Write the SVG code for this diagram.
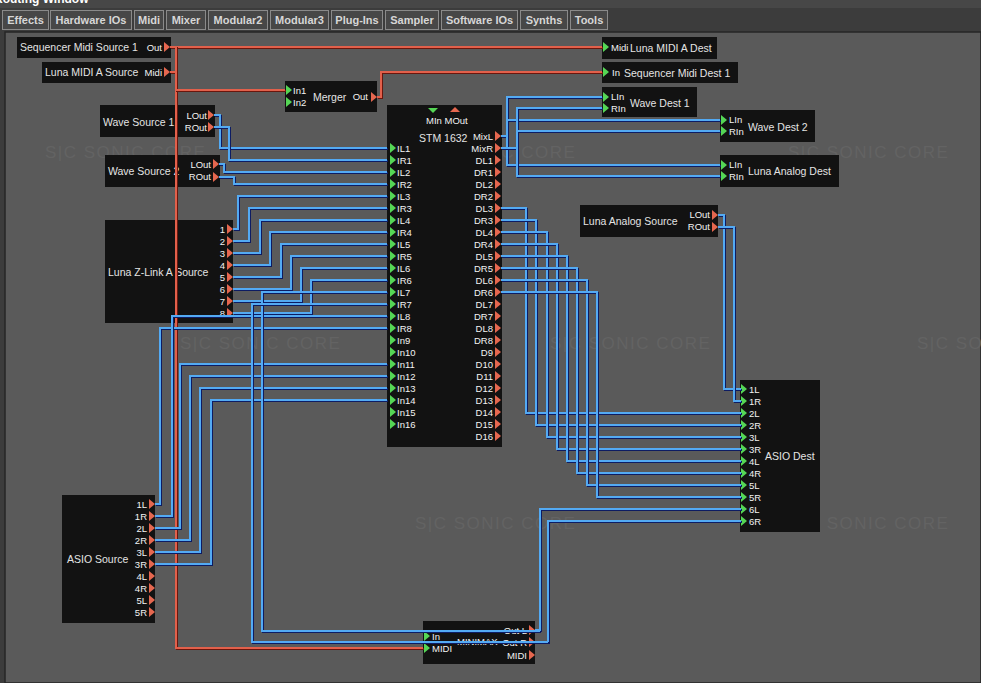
<svg xmlns="http://www.w3.org/2000/svg" width="981" height="683" viewBox="0 0 981 683">
<style>
.bg{fill:#5a5a5a}
.n{fill:#121212}
.t{font-family:"Liberation Sans",Arial,sans-serif;font-size:10.5px;fill:#e4e4e4}
.p{font-family:"Liberation Sans",Arial,sans-serif;font-size:9.5px;fill:#f2f2f2}
.e{text-anchor:end}
.tab{fill:#474747;stroke:#8a8a8a;stroke-width:1}
.tt{font-family:"Liberation Sans",Arial,sans-serif;font-size:11px;font-weight:bold;fill:#d6d6d6;text-anchor:middle}
.wm{font-family:"Liberation Sans",Arial,sans-serif;font-size:17px;letter-spacing:1.5px;fill:#636363}
.b{fill:none;stroke:#52aaf3;stroke-width:2;filter:url(#sb)}
.r{fill:none;stroke:#e2614c;stroke-width:2;filter:url(#sr)}
</style>
<defs>
<filter id="sb" filterUnits="userSpaceOnUse" x="0" y="0" width="981" height="683"><feDropShadow dx="1" dy="1" stdDeviation="0" flood-color="#0b1f63" flood-opacity="1"/></filter>
<filter id="sr" filterUnits="userSpaceOnUse" x="0" y="0" width="981" height="683"><feDropShadow dx="1" dy="1" stdDeviation="0" flood-color="#6a1208" flood-opacity="1"/></filter>
<path id="ti" d="M0,-5 L6,0 L0,5 Z" fill="#55d655"/>
<path id="to" d="M0,-5 L6,0 L0,5 Z" fill="#e5674f"/>
</defs>
<rect x="0" y="0" width="981" height="683" fill="#3c3c3c"/>
<rect x="0" y="0" width="981" height="8" fill="#474747"/>
<text x="-6" y="3" style="font-family:'Liberation Sans',Arial,sans-serif;font-size:12px;font-weight:bold;fill:#ffffff">Routing Window</text>
<g id="tabs">
<rect class="tab" x="2.5" y="10.5" width="46" height="19"/><text class="tt" x="25.5" y="24">Effects</text>
<rect class="tab" x="50.5" y="10.5" width="81" height="19"/><text class="tt" x="91" y="24">Hardware IOs</text>
<rect class="tab" x="134.5" y="10.5" width="29" height="19"/><text class="tt" x="149" y="24">Midi</text>
<rect class="tab" x="166.5" y="10.5" width="39" height="19"/><text class="tt" x="186" y="24">Mixer</text>
<rect class="tab" x="208.5" y="10.5" width="59" height="19"/><text class="tt" x="238" y="24">Modular2</text>
<rect class="tab" x="270.5" y="10.5" width="58" height="19"/><text class="tt" x="299.5" y="24">Modular3</text>
<rect class="tab" x="331.5" y="10.5" width="51" height="19"/><text class="tt" x="357" y="24">Plug-Ins</text>
<rect class="tab" x="385.5" y="10.5" width="53" height="19"/><text class="tt" x="412" y="24">Sampler</text>
<rect class="tab" x="441.5" y="10.5" width="76" height="19"/><text class="tt" x="479.5" y="24">Software IOs</text>
<rect class="tab" x="520.5" y="10.5" width="47" height="19"/><text class="tt" x="544" y="24">Synths</text>
<rect class="tab" x="570.5" y="10.5" width="37" height="19"/><text class="tt" x="589" y="24">Tools</text>
</g>
<rect class="bg" x="5" y="32" width="976" height="651" stroke="#262626" stroke-width="1.5"/>
<g id="watermarks">
<text class="wm" x="45" y="158">S|C  SONIC CORE</text>
<text class="wm" x="415" y="158">S|C  SONIC CORE</text>
<text class="wm" x="788" y="158">S|C  SONIC CORE</text>
<text class="wm" x="180" y="349">S|C  SONIC CORE</text>
<text class="wm" x="550" y="349">S|C  SONIC CORE</text>
<text class="wm" x="917" y="349">S|C  SONIC CORE</text>
<text class="wm" x="415" y="529">S|C  SONIC CORE</text>
<text class="wm" x="788" y="529">S|C  SONIC CORE</text>
</g>
<g id="seq-midi-src">
<rect class="n" x="17" y="37" width="154" height="21"/>
<text class="t" x="20" y="51">Sequencer Midi Source 1</text>
<text class="p e" x="162" y="51">Out</text>
<use href="#to" x="164" y="47"/>
</g>
<g id="luna-midi-src">
<rect class="n" x="42" y="62" width="129" height="21"/>
<text class="t" x="45" y="76">Luna MIDI A Source</text>
<text class="p e" x="162" y="76">Midi</text>
<use href="#to" x="164" y="72"/>
</g>
<g id="merger">
<rect class="n" x="285" y="81" width="92" height="31"/>
<use href="#ti" x="286" y="90"/><text class="p" x="293" y="94">In1</text>
<use href="#ti" x="286" y="102"/><text class="p" x="293" y="106">In2</text>
<text class="t" x="313" y="101">Merger</text>
<text class="p e" x="368" y="100">Out</text>
<use href="#to" x="371" y="97"/>
</g>
<g id="luna-midi-dest">
<rect class="n" x="602" y="37" width="115" height="22"/>
<use href="#ti" x="603" y="47"/>
<text class="p" x="611" y="51">Midi</text>
<text class="t" x="630" y="52">Luna MIDI A Dest</text>
</g>
<g id="seq-midi-dest">
<rect class="n" x="602" y="62" width="136" height="21"/>
<use href="#ti" x="603" y="72"/>
<text class="p" x="612" y="76">In</text>
<text class="t" x="624" y="77">Sequencer Midi Dest 1</text>
</g>
<g id="wave-dest-1">
<rect class="n" x="602" y="87" width="95" height="30"/>
<use href="#ti" x="603" y="97"/><text class="p" x="611" y="100">LIn</text>
<use href="#ti" x="603" y="108"/><text class="p" x="611" y="112">RIn</text>
<text class="t" x="630" y="107">Wave Dest 1</text>
</g>
<g id="wave-dest-2">
<rect class="n" x="720" y="110" width="95" height="32"/>
<use href="#ti" x="721" y="120"/><text class="p" x="729" y="123">LIn</text>
<use href="#ti" x="721" y="131"/><text class="p" x="729" y="135">RIn</text>
<text class="t" x="748" y="131">Wave Dest 2</text>
</g>
<g id="luna-analog-dest">
<rect class="n" x="720" y="155" width="119" height="32"/>
<use href="#ti" x="721" y="165"/><text class="p" x="729" y="168">LIn</text>
<use href="#ti" x="721" y="176"/><text class="p" x="729" y="180">RIn</text>
<text class="t" x="748" y="175">Luna Analog Dest</text>
</g>
<g id="wave-src-1">
<rect class="n" x="100" y="105" width="115" height="32"/>
<text class="t" x="103" y="126">Wave Source 1</text>
<text class="p e" x="207" y="119">LOut</text>
<text class="p e" x="207" y="131">ROut</text>
<use href="#to" x="208" y="115"/><use href="#to" x="208" y="127"/>
</g>
<g id="wave-src-2">
<rect class="n" x="105" y="155" width="115" height="32"/>
<text class="t" x="108" y="175">Wave Source 2</text>
<text class="p e" x="211" y="168">LOut</text>
<text class="p e" x="211" y="180">ROut</text>
<use href="#to" x="213" y="164"/><use href="#to" x="213" y="177"/>
</g>
<g id="zlink-src">
<rect class="n" x="105" y="220" width="128" height="103"/>
<text class="t" x="108" y="276">Luna Z-Link A Source</text>
<text class="p e" x="225" y="233">1</text><use href="#to" x="227" y="229"/>
<text class="p e" x="225" y="245">2</text><use href="#to" x="227" y="241"/>
<text class="p e" x="225" y="257">3</text><use href="#to" x="227" y="253"/>
<text class="p e" x="225" y="269">4</text><use href="#to" x="227" y="265"/>
<text class="p e" x="225" y="281">5</text><use href="#to" x="227" y="277"/>
<text class="p e" x="225" y="293">6</text><use href="#to" x="227" y="289"/>
<text class="p e" x="225" y="305">7</text><use href="#to" x="227" y="301"/>
<text class="p e" x="225" y="317">8</text><use href="#to" x="227" y="313"/>
</g>
<g id="stm1632">
<rect class="n" x="387" y="105" width="115" height="342"/>
<path d="M428,108 H438 L433,113 Z" fill="#55d655"/>
<path d="M450,112 H460 L455,107 Z" fill="#e5674f"/>
<text class="p" x="426" y="124">MIn MOut</text>
<text class="t" x="419" y="142">STM 1632</text>
<g class="p">
<text x="397" y="152">IL1</text><text x="397" y="164">IR1</text><text x="397" y="176">IL2</text><text x="397" y="188">IR2</text>
<text x="397" y="200">IL3</text><text x="397" y="212">IR3</text><text x="397" y="224">IL4</text><text x="397" y="236">IR4</text>
<text x="397" y="248">IL5</text><text x="397" y="260">IR5</text><text x="397" y="272">IL6</text><text x="397" y="284">IR6</text>
<text x="397" y="296">IL7</text><text x="397" y="308">IR7</text><text x="397" y="320">IL8</text><text x="397" y="332">IR8</text>
<text x="397" y="344">In9</text><text x="397" y="356">In10</text><text x="397" y="368">In11</text><text x="397" y="380">In12</text>
<text x="397" y="392">In13</text><text x="397" y="404">In14</text><text x="397" y="416">In15</text><text x="397" y="428">In16</text>
</g>
<g class="p e">
<text x="493" y="140">MixL</text><text x="493" y="152">MixR</text>
<text x="493" y="164">DL1</text><text x="493" y="176">DR1</text><text x="493" y="188">DL2</text><text x="493" y="200">DR2</text>
<text x="493" y="212">DL3</text><text x="493" y="224">DR3</text><text x="493" y="236">DL4</text><text x="493" y="248">DR4</text>
<text x="493" y="260">DL5</text><text x="493" y="272">DR5</text><text x="493" y="284">DL6</text><text x="493" y="296">DR6</text>
<text x="493" y="308">DL7</text><text x="493" y="320">DR7</text><text x="493" y="332">DL8</text><text x="493" y="344">DR8</text>
<text x="493" y="356">D9</text><text x="493" y="368">D10</text><text x="493" y="380">D11</text><text x="493" y="392">D12</text>
<text x="493" y="404">D13</text><text x="493" y="416">D14</text><text x="493" y="428">D15</text><text x="493" y="440">D16</text>
</g>
<use href="#ti" x="390" y="148"/><use href="#ti" x="390" y="160"/><use href="#ti" x="390" y="172"/><use href="#ti" x="390" y="184"/>
<use href="#ti" x="390" y="196"/><use href="#ti" x="390" y="208"/><use href="#ti" x="390" y="220"/><use href="#ti" x="390" y="232"/>
<use href="#ti" x="390" y="244"/><use href="#ti" x="390" y="256"/><use href="#ti" x="390" y="268"/><use href="#ti" x="390" y="280"/>
<use href="#ti" x="390" y="292"/><use href="#ti" x="390" y="304"/><use href="#ti" x="390" y="316"/><use href="#ti" x="390" y="328"/>
<use href="#ti" x="390" y="340"/><use href="#ti" x="390" y="352"/><use href="#ti" x="390" y="364"/><use href="#ti" x="390" y="376"/>
<use href="#ti" x="390" y="388"/><use href="#ti" x="390" y="400"/><use href="#ti" x="390" y="412"/><use href="#ti" x="390" y="424"/>
<use href="#to" x="495" y="136"/><use href="#to" x="495" y="148"/>
<use href="#to" x="495" y="160"/><use href="#to" x="495" y="172"/><use href="#to" x="495" y="184"/><use href="#to" x="495" y="196"/>
<use href="#to" x="495" y="208"/><use href="#to" x="495" y="220"/><use href="#to" x="495" y="232"/><use href="#to" x="495" y="244"/>
<use href="#to" x="495" y="256"/><use href="#to" x="495" y="268"/><use href="#to" x="495" y="280"/><use href="#to" x="495" y="292"/>
<use href="#to" x="495" y="304"/><use href="#to" x="495" y="316"/><use href="#to" x="495" y="328"/><use href="#to" x="495" y="340"/>
<use href="#to" x="495" y="352"/><use href="#to" x="495" y="364"/><use href="#to" x="495" y="376"/><use href="#to" x="495" y="388"/>
<use href="#to" x="495" y="400"/><use href="#to" x="495" y="412"/><use href="#to" x="495" y="424"/><use href="#to" x="495" y="436"/>
</g>
<g id="luna-analog-src">
<rect class="n" x="580" y="205" width="138" height="32"/>
<text class="t" x="583" y="225">Luna Analog Source</text>
<text class="p e" x="710" y="218">LOut</text>
<text class="p e" x="710" y="230">ROut</text>
<use href="#to" x="712" y="215"/><use href="#to" x="712" y="227"/>
</g>
<g id="asio-dest">
<rect class="n" x="740" y="380" width="80" height="152"/>
<text class="t" x="765" y="460">ASIO Dest</text>
<g class="p">
<text x="749" y="393">1L</text><text x="749" y="405">1R</text><text x="749" y="417">2L</text><text x="749" y="429">2R</text>
<text x="749" y="441">3L</text><text x="749" y="453">3R</text><text x="749" y="465">4L</text><text x="749" y="477">4R</text>
<text x="749" y="489">5L</text><text x="749" y="501">5R</text><text x="749" y="513">6L</text><text x="749" y="525">6R</text>
</g>
<use href="#ti" x="741" y="389"/><use href="#ti" x="741" y="401"/><use href="#ti" x="741" y="413"/><use href="#ti" x="741" y="425"/>
<use href="#ti" x="741" y="437"/><use href="#ti" x="741" y="449"/><use href="#ti" x="741" y="461"/><use href="#ti" x="741" y="473"/>
<use href="#ti" x="741" y="485"/><use href="#ti" x="741" y="497"/><use href="#ti" x="741" y="509"/><use href="#ti" x="741" y="521"/>
</g>
<g id="asio-src">
<rect class="n" x="62" y="495" width="93" height="128"/>
<text class="t" x="67" y="563">ASIO Source</text>
<g class="p e">
<text x="147" y="508">1L</text><text x="147" y="520">1R</text><text x="147" y="532">2L</text><text x="147" y="544">2R</text>
<text x="147" y="556">3L</text><text x="147" y="568">3R</text><text x="147" y="580">4L</text><text x="147" y="592">4R</text>
<text x="147" y="604">5L</text><text x="147" y="616">5R</text>
</g>
<use href="#to" x="149" y="504"/><use href="#to" x="149" y="516"/><use href="#to" x="149" y="528"/><use href="#to" x="149" y="540"/>
<use href="#to" x="149" y="552"/><use href="#to" x="149" y="564"/><use href="#to" x="149" y="576"/><use href="#to" x="149" y="588"/>
<use href="#to" x="149" y="600"/><use href="#to" x="149" y="612"/>
</g>
<g id="minimax">
<rect class="n" x="423" y="621" width="112" height="43"/>
<use href="#ti" x="424" y="636"/><text class="p" x="432" y="640">In</text>
<use href="#ti" x="424" y="648"/><text class="p" x="432" y="652">MIDI</text>
<text class="p" x="457" y="645">MINIMAX</text>
<text class="p e" x="527" y="634">Out L</text>
<text class="p e" x="527" y="646">Out R</text>
<text class="p e" x="527" y="659">MIDI</text>
<use href="#to" x="529" y="630"/><use href="#to" x="529" y="642"/><use href="#to" x="529" y="655"/>
</g>
<g id="connectors">
<path class="r" d="M170,47 H602"/>
<path class="r" d="M170,47 H176 V648 H423"/>
<path class="r" d="M170,72 H176 V90 H285"/>
<path class="r" d="M377,97 H381 V72 H602"/>
<path class="b" d="M214,115 H220 V148 H387"/>
<path class="b" d="M214,127 H229 V160 H387"/>
<path class="b" d="M219,164 H224 V172 H387"/>
<path class="b" d="M219,177 H234 V184 H387"/>
<path class="b" d="M233,229 H238 V196 H387"/>
<path class="b" d="M233,241 H249 V208 H387"/>
<path class="b" d="M233,253 H260 V220 H387"/>
<path class="b" d="M233,265 H270 V232 H387"/>
<path class="b" d="M233,277 H281 V244 H387"/>
<path class="b" d="M233,289 H291 V256 H387"/>
<path class="b" d="M233,301 H301 V268 H387"/>
<path class="b" d="M233,313 H311 V280 H387"/>
<path class="b" d="M155,504 H160 V328 H387"/>
<path class="b" d="M155,516 H172 V316 H387"/>
<path class="b" d="M155,528 H180 V364 H387"/>
<path class="b" d="M155,540 H190 V376 H387"/>
<path class="b" d="M155,552 H200 V388 H387"/>
<path class="b" d="M155,564 H211 V400 H387"/>
<path class="b" d="M535,630 H540 V509 H741"/>
<path class="b" d="M540,631 H262 V292 H387"/>
<path class="b" d="M535,642 H548 V521 H741"/>
<path class="b" d="M548,642 H252 V304 H387"/>
<path class="b" d="M501,136 H507 V97 H602"/>
<path class="b" d="M507,136 V165 H720"/>
<path class="b" d="M507,120 H720"/>
<path class="b" d="M501,148 H517 V108 H602"/>
<path class="b" d="M517,148 V176 H720"/>
<path class="b" d="M517,131 H720"/>
<path class="b" d="M501,208 H526 V413 H741"/>
<path class="b" d="M501,220 H536 V425 H741"/>
<path class="b" d="M501,232 H547 V437 H741"/>
<path class="b" d="M501,244 H557 V449 H741"/>
<path class="b" d="M501,256 H567 V461 H741"/>
<path class="b" d="M501,268 H577 V473 H741"/>
<path class="b" d="M501,280 H587 V485 H741"/>
<path class="b" d="M501,292 H597 V497 H741"/>
<path class="b" d="M718,215 H724 V389 H741"/>
<path class="b" d="M718,227 H734 V401 H741"/>
</g>
</svg>
